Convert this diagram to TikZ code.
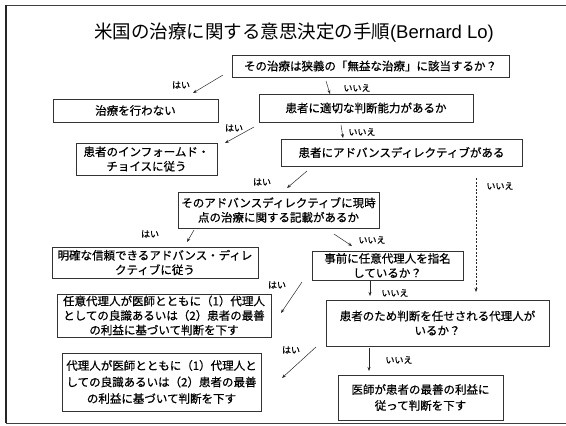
\documentclass[tikz,border=0pt]{standalone}
\usepackage{fontspec}
\setmainfont{Noto Sans CJK JP}
\newfontfamily\boxfont{Noto Sans CJK JP}[FakeBold=0.6]
\newfontfamily\latfont{Liberation Sans}
\usetikzlibrary{arrows.meta}
\begin{document}
\begin{tikzpicture}[x=1pt,y=-1pt,
  box/.style={draw=black!80, line width=0.6pt, fill=white, inner sep=0pt, align=center, font=\boxfont\fontsize{11.5}{14.5}\selectfont},
  lbl/.style={font=\boxfont\fontsize{9}{10}\selectfont, inner sep=0pt},
  arr/.style={-{Stealth[length=4pt,width=3pt]}, line width=0.5pt, draw=black!85},
  darr/.style={arr, dash pattern=on 2pt off 1.5pt}]
\useasboundingbox (0,0) rectangle (566,426);
\draw[black!75, line width=0.8pt] (566,5) -- (6,5) -- (6,423) -- (566,423);
\draw[black!85, line width=1.6pt] (6,5) -- (6,423);
\node (title) at (294,33) {\fontsize{18.5}{21}\selectfont 米国の治療に関する意思決定の手順{\latfont(Bernard Lo)}};
% boxes
\node[box, minimum width=277, minimum height=22] (b1) at (370.5,66) {その治療は狭義の「無益な治療」に該当するか？};
\node[box, minimum width=165, minimum height=23] (b2) at (135.5,110.5) {治療を行わない};
\node[box, minimum width=214, minimum height=28] (b3) at (366,108) {患者に適切な判断能力があるか};
\node[box, minimum width=141, minimum height=32] (b4) at (146.5,159) {患者のインフォームド・\\チョイスに従う};
\node[box, minimum width=241, minimum height=27] (b5) at (401.5,152.5) {患者にアドバンスディレクティブがある};
\node[box, minimum width=201, minimum height=36] (b6) at (278.5,210) {そのアドバンスディレクティブに現時\\点の治療に関する記載があるか};
\node[box, minimum width=206, minimum height=31] (b7) at (155,262.5) {明確な信頼できるアドバンス・ディレ\\クティブに従う};
\node[box, minimum width=151, minimum height=29] (b8) at (387.5,265.5) {事前に任意代理人を指名\\しているか？};
\node[box, minimum width=214, minimum height=43] (b9) at (164,315.5) {任意代理人が医師とともに（1）代理人\\としての良識あるいは（2）患者の最善\\の利益に基づいて判断を下す};
\node[box, minimum width=223, minimum height=46] (b10) at (437.5,323) {患者のため判断を任せされる代理人が\\いるか？};
\node[box, minimum width=199, minimum height=58, font=\boxfont\fontsize{11.5}{16.5}\selectfont] (b11) at (161.5,382) {代理人が医師とともに（1）代理人と\\しての良識あるいは（2）患者の最善\\の利益に基づいて判断を下す};
\node[box, minimum width=165, minimum height=45, font=\boxfont\fontsize{11.5}{16}\selectfont] (b12) at (420.5,397.5) {医師が患者の最善の利益に\\従って判断を下す};
% arrow end points
\coordinate (a1s) at (223,75); \coordinate (a1e) at (193,93);
\coordinate (a2s) at (326,81); \coordinate (a2e) at (330,94);
\coordinate (a3s) at (254,127); \coordinate (a3e) at (225,143);
\coordinate (a4s) at (341,125); \coordinate (a4e) at (343,138);
\coordinate (a5s) at (307,171); \coordinate (a5e) at (287,188);
\coordinate (a6s) at (476,178); \coordinate (a6e) at (476,292);
\coordinate (a7s) at (194,230); \coordinate (a7e) at (187,242);
\coordinate (a8s) at (334,234); \coordinate (a8e) at (352,246);
\coordinate (a9s) at (302,282); \coordinate (a9e) at (281,313);
\coordinate (a10s) at (370,281); \coordinate (a10e) at (370,296);
\coordinate (a11s) at (316,347); \coordinate (a11e) at (282,378);
\coordinate (a12s) at (369,348); \coordinate (a12e) at (369,371);
\draw[arr] (a1s) -- (a1e);
\draw[arr] (a2s) -- (a2e);
\draw[arr] (a3s) -- (a3e);
\draw[arr] (a4s) -- (a4e);
\draw[arr] (a5s) -- (a5e);
\draw[darr] (a6s) -- (a6e);
\draw[arr] (a7s) -- (a7e);
\draw[arr] (a8s) -- (a8e);
\draw[arr] (a9s) -- (a9e);
\draw[arr] (a10s) -- (a10e);
\draw[arr] (a11s) -- (a11e);
\draw[arr] (a12s) -- (a12e);
% labels
\node[lbl] (l1) at (181,85) {はい};
\node[lbl] (l2) at (357,88) {いいえ};
\node[lbl] (l3) at (234,128) {はい};
\node[lbl] (l4) at (362,132) {いいえ};
\node[lbl] (l5) at (262,182) {はい};
\node[lbl] (l6) at (500,186) {いいえ};
\node[lbl] (l7) at (150,234) {はい};
\node[lbl] (l8) at (372,240) {いいえ};
\node[lbl] (l9) at (277,285) {はい};
\node[lbl] (l10) at (395,293) {いいえ};
\node[lbl] (l11) at (291,350) {はい};
\node[lbl] (l12) at (399,360) {いいえ};
\end{tikzpicture}
\end{document}
